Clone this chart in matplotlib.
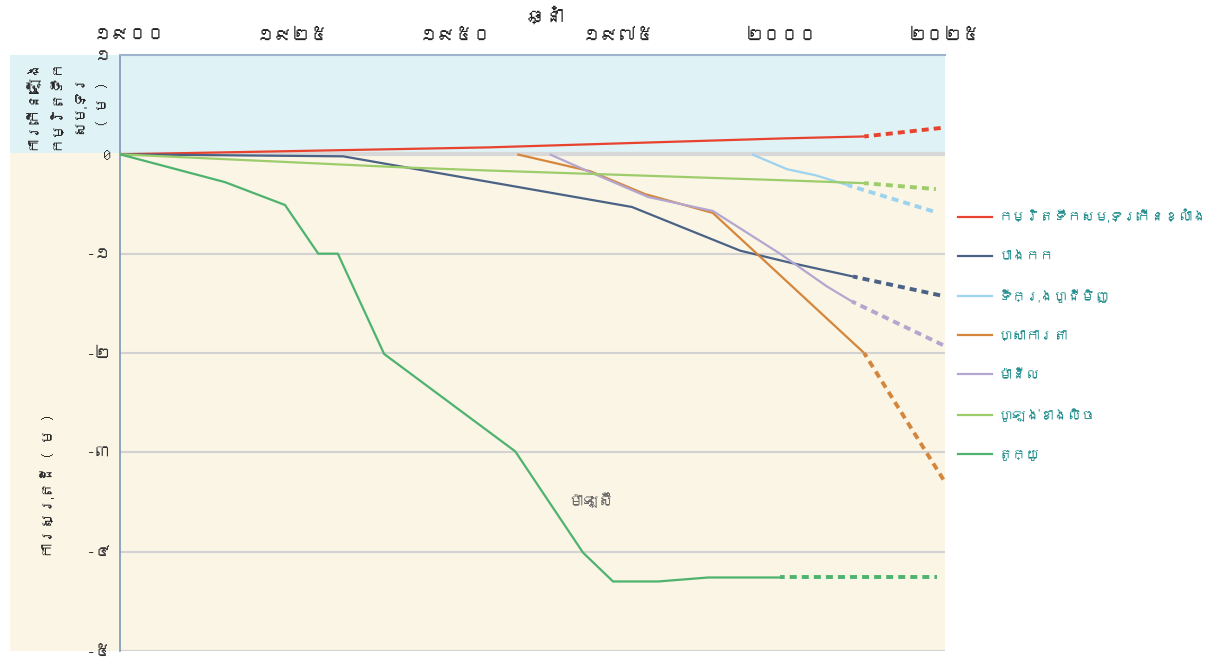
import matplotlib
matplotlib.use("Agg")
import matplotlib.pyplot as plt
from matplotlib import font_manager as fm
from matplotlib.ft2font import FT2Font
from matplotlib.patches import Rectangle
from matplotlib.lines import Line2D

# ---- font with Khmer glyphs, if any is installed ----
khmer_fams = []
for f in fm.fontManager.ttflist:
    try:
        cm = FT2Font(f.fname).get_charmap()
        if 0x1780 in cm and f.name not in khmer_fams:
            khmer_fams.append(f.name)
    except Exception:
        pass
FAMS = khmer_fams + ["Noto Sans", "DejaVu Sans"]
plt.rcParams["font.family"] = FAMS

# ---- data ----
x_ticks = [1900, 1925, 1950, 1975, 2000, 2025]
x_tick_labels = ["១៩០០", "១៩២៥", "១៩៥០", "១៩៧៥", "២០០០", "២០២៥"]
y_ticks = [1, 0, -1, -2, -3, -4, -5]
y_tick_labels = ["១", "0", "-១", "-២", "-៣", "-៤", "-៥"]

series_names = ["កម្រិតទឹកសមុទ្រកើនខ្លាំង", "បាងកក", "ទីក្រុងហូជីមិញ",
                "ហ្សាការតា", "ម៉ានីល", "ហូឡង់ខាងលិច", "តូក្យូ"]

sea_years = [1898.5, 1955, 2000, 2012.6]
sea_vals = [0.0, 0.07, 0.16, 0.18]
sea_proj_year, sea_proj_val = 2025, 0.27

bkk_years = [1898.5, 1932.7, 1977.0, 1993.6, 2001.2, 2010.9]
bkk_vals = [0.0, -0.02, -0.53, -0.97, -1.09, -1.23]
bkk_proj_year, bkk_proj_val = 2025, -1.43

hcm_years = [1995.4, 2000.8, 2005.1, 2010.1]
hcm_vals = [0.0, -0.15, -0.21, -0.31]
hcm_proj_year, hcm_proj_val = 2023.5, -0.58

jak_years = [1959.4, 1970.6, 1979.0, 1989.4, 2012.6]
jak_vals = [0.0, -0.17, -0.40, -0.59, -2.0]
jak_proj_year, jak_proj_val = 2025, -3.30

mnl_years = [1964.4, 1970.6, 1979.5, 1989.4, 1999.7, 2006.9, 2010.7]
mnl_vals = [0.0, -0.18, -0.43, -0.57, -1.0, -1.33, -1.48]
mnl_proj_year, mnl_proj_val = 2025, -1.93

hol_years = [1898.5, 1941.4, 1953.7, 1999.7, 2012.6]
hol_vals = [0.0, -0.13, -0.16, -0.26, -0.29]
hol_proj_year, hol_proj_val = 2023.6, -0.35

tok_years = [1898.5, 1914.6, 1923.8, 1928.9, 1931.9, 1939.0, 1959.1,
             1969.5, 1974.1, 1981.0, 1988.7, 1999.7]
tok_vals = [0.0, -0.28, -0.51, -1.0, -1.0, -2.01, -2.99,
            -4.01, -4.30, -4.30, -4.26, -4.26]
tok_proj_year, tok_proj_val = 2023.8, -4.26

colors = ["#e8432e", "#4a6285", "#9dd3ef", "#d4873c", "#b3a7d0", "#9dcc6b", "#4db36e"]

W, H = 1217, 664
fig = plt.figure(figsize=(W / 100, H / 100), dpi=100)

def fx(px):
    return px / W

def fy(py):
    return 1 - py / H

# background bands (figure coordinates), drawn beneath the axes
fig.patches.append(Rectangle((fx(10), fy(153)), fx(945) - fx(10), fy(55) - fy(153),
                             transform=fig.transFigure, facecolor="#dff2f5",
                             edgecolor="none", zorder=-5))
fig.patches.append(Rectangle((fx(10), fy(651)), fx(945) - fx(10), fy(153) - fy(651),
                             transform=fig.transFigure, facecolor="#fbf5e5",
                             edgecolor="none", zorder=-5))

ax = fig.add_axes([fx(120), fy(651), fx(945) - fx(120), fy(55) - fy(651)])
ax.set_facecolor("none")
ax.set_zorder(2)
ax.set_xlim(1898.5, 2025)
ax.set_ylim(-5, 1)

for s in ["right", "bottom"]:
    ax.spines[s].set_visible(False)
ax.spines["left"].set_color("#7d95b8")
ax.spines["top"].set_color("#9fb3cc")
ax.spines["left"].set_linewidth(1.2)
ax.spines["top"].set_linewidth(1.5)

# grid lines
for yv in [-1, -2, -3, -4]:
    ax.axhline(yv, color="#d2d2d2", lw=1.5, zorder=1)
ax.axhline(0, color="#d8d8d8", lw=3, zorder=1)
ax.axhline(-5, color="#d2d2d2", lw=1.5, zorder=1)

ax.xaxis.tick_top()
ax.set_xticks(x_ticks)
ax.set_xticklabels(x_tick_labels, fontsize=13, fontweight="bold", color="#222222")
ax.tick_params(axis="x", length=0, pad=9)
ax.set_yticks(y_ticks)
ax.set_yticklabels(y_tick_labels, fontsize=12, color="#333333")
ax.tick_params(axis="y", length=0, pad=6)

all_series = [
    (sea_years, sea_vals, sea_proj_year, sea_proj_val),
    (bkk_years, bkk_vals, bkk_proj_year, bkk_proj_val),
    (hcm_years, hcm_vals, hcm_proj_year, hcm_proj_val),
    (jak_years, jak_vals, jak_proj_year, jak_proj_val),
    (mnl_years, mnl_vals, mnl_proj_year, mnl_proj_val),
    (hol_years, hol_vals, hol_proj_year, hol_proj_val),
    (tok_years, tok_vals, tok_proj_year, tok_proj_val),
]
for (yrs, vals, py_, pv_), c in zip(all_series, colors):
    ax.plot(yrs, vals, color=c, lw=1.6, zorder=3, solid_capstyle="butt")
    ax.plot([yrs[-1], py_], [vals[-1], pv_], color=c, lw=2.8,
            linestyle=(0.6, (1.8, 1.3)), zorder=3, dash_capstyle="butt")

ax.text(1970.8, -3.48, "ម៉ាឡេស៊ី", fontsize=11, color="#666666",
        ha="center", va="center")

# axis titles
fig.text(fx(545), fy(16), "ឆ្នាំ", fontsize=14, fontweight="bold",
         ha="center", va="center", color="#222222")
top_lines = ["ការកើនឡើង", "កម្រិតទឹក", "សមុទ្រ", "( ម )"]
for i, t in enumerate(top_lines):
    fig.text(fx(31 + i * 24), fy(104), t, rotation=90, fontsize=11,
             fontweight="bold" if i < 3 else "normal",
             ha="center", va="center", color="#222222")
fig.text(fx(48), fy(486), "ការស្រុតដី ( ម )", rotation=90, fontsize=11,
         fontweight="bold", ha="center", va="center", color="#222222")

# legend
handles = [Line2D([0], [0], color=c, lw=1.6) for c in colors]
leg = fig.legend(handles, series_names, loc="upper left",
                 bbox_to_anchor=(fx(954), fy(205)), frameon=False,
                 fontsize=10, labelspacing=1.95, handlelength=2.45,
                 handletextpad=0.45, borderaxespad=0.0, borderpad=0.3)
for t in leg.get_texts():
    t.set_color("#1f8b8b")

fig.savefig("out.png", dpi=100)
